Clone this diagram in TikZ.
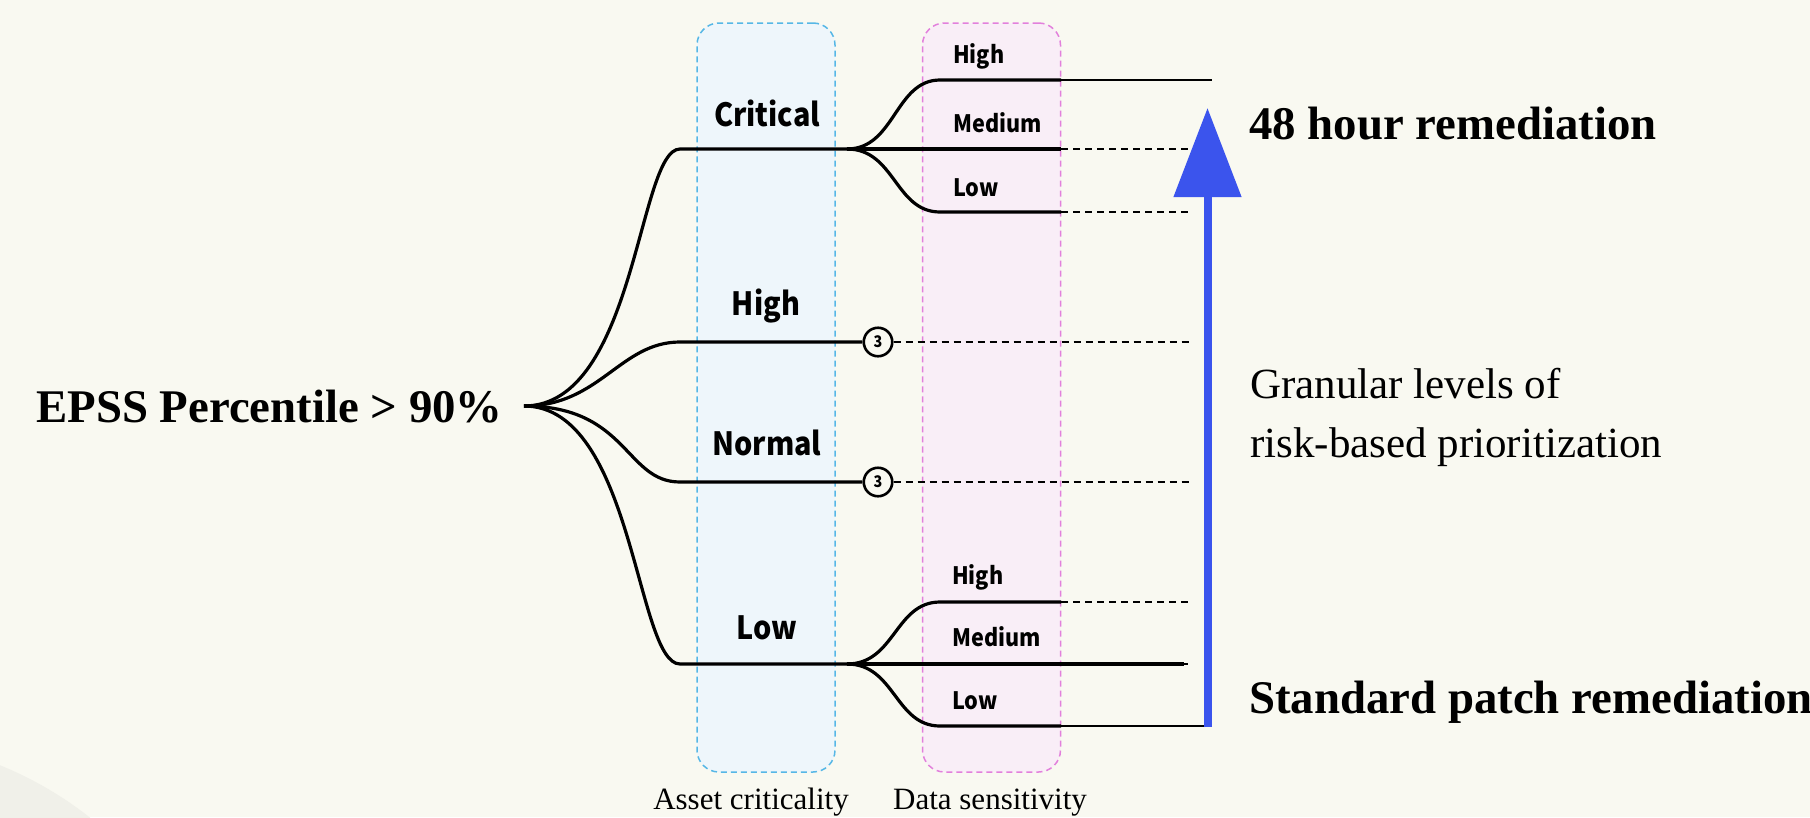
\documentclass[tikz,border=0pt]{standalone}
\usepackage{fontspec}
\setmainfont{Liberation Serif}
\newfontfamily\labfont{Noto Sans CJK SC}[FakeStretch=0.9]
\usetikzlibrary{arrows.meta}

\definecolor{paper}{RGB}{249,249,241}
\definecolor{paperdark}{RGB}{240,240,233}
\definecolor{assetfill}{RGB}{238,246,251}
\definecolor{assetline}{RGB}{86,183,230}
\definecolor{datafill}{RGB}{249,238,247}
\definecolor{dataline}{RGB}{226,128,220}
\definecolor{scaleblue}{RGB}{59,84,237}

\begin{document}
\begin{tikzpicture}[x=1pt,y=-1pt,
  branch/.style={line width=3.2pt},
  thinbranch/.style={line width=2.2pt},
  tail/.style={line width=1.6pt, dash pattern=on 7pt off 5pt},
  column/.style={rounded corners=22pt, line width=1.5pt,
    dash pattern=on 6pt off 4pt, minimum width=138pt, minimum height=749pt,
    inner sep=0pt},
  levelbig/.style={font=\labfont\bfseries\fontsize{32}{32}\selectfont, anchor=base, inner sep=0pt},
  levelsmall/.style={font=\labfont\bfseries\fontsize{24}{24}\selectfont, anchor=base west, inner sep=0pt},
  count/.style={circle, draw, line width=2.6pt, fill=paper, minimum size=28.5pt,
    inner sep=0pt, font=\labfont\bfseries\fontsize{16}{16}\selectfont},
  heading/.style={font=\bfseries\fontsize{46.8}{47}\selectfont, anchor=base west, inner sep=0pt},
  caption/.style={font=\fontsize{31}{31}\selectfont, anchor=base, inner sep=0pt}
]
% page and background shading
\useasboundingbox (0,0) rectangle (1810,817);
\fill[paper] (0,0) rectangle (1810,817);
\begin{scope}
  \clip (0,0) rectangle (1810,817);
  \fill[paperdark] (-140,1110) circle (372);
\end{scope}

% the two criteria columns
\node[column, draw=assetline, fill=assetfill] (asset) at (766,397.5) {};
\node[column, draw=dataline, fill=datafill] (data) at (991.5,397.5) {};
\node[caption] (assetcap) at (751,809) {Asset criticality};
\node[caption] (datacap) at (990,809) {Data sensitivity};

% root
\node[heading] (epss) at (36,422) {EPSS Percentile > 90\%};
\coordinate (root) at (524,406);

% asset criticality levels
\coordinate (crit) at (680,149);
\coordinate (critj) at (847,149);
\coordinate (high) at (680,342);
\coordinate (norm) at (680,482);
\coordinate (low) at (680,664);
\coordinate (lowj) at (847,664);

\node[levelbig] (critlab) at (767,126) {Critical};
\node[levelbig] (highlab) at (766,315) {High};
\node[levelbig] (normlab) at (767,455) {Normal};
\node[levelbig] (lowlab) at (767,639) {Low};

\node[count] (c1) at (878,342) {3};
\node[count] (c2) at (878,482) {3};

\draw[branch] (root) .. controls (636,406) and (638,149) .. (crit) -- (critj);
\draw[branch] (root) .. controls (600,406) and (620,342) .. (high) -- (c1.west);
\draw[branch] (root) .. controls (628,406) and (625,482) .. (norm) -- (c2.west);
\draw[branch] (root) .. controls (634,406) and (636,664) .. (low) -- (lowj);

% data sensitivity under critical assets
\coordinate (cH) at (940,80);
\coordinate (cHe) at (1061,80);
\coordinate (cHx) at (1212,80);
\coordinate (cMe) at (1061,149);
\coordinate (cMx) at (1192,149);
\coordinate (cL) at (940,212);
\coordinate (cLe) at (1061,212);
\coordinate (cLx) at (1189,212);

\draw[branch] (critj) .. controls +(48,0) and +(-45,0) .. (cH) -- (cHe);
\draw[branch] (critj) -- (cMe);
\draw[branch] (critj) .. controls +(48,0) and +(-45,0) .. (cL) -- (cLe);
\draw[thinbranch] (cHe) -- (cHx);
\draw[tail] (cMe) -- (cMx);
\draw[tail] (cLe) -- (cLx);

\node[levelsmall] (cHlab) at (953,63) {High};
\node[levelsmall] (cMlab) at (953,132) {Medium};
\node[levelsmall] (cLlab) at (953,196) {Low};

% data sensitivity under low assets
\coordinate (lH) at (940,602);
\coordinate (lHe) at (1061,602);
\coordinate (lHx) at (1189,602);
\coordinate (lMe) at (1061,664);
\coordinate (lMx) at (1184,664);
\coordinate (lL) at (940,726);
\coordinate (lLe) at (1061,726);
\coordinate (lLx) at (1211,726);

\draw[branch] (lowj) .. controls +(48,0) and +(-45,0) .. (lH) -- (lHe);
\draw[tail] (lMe) -- (1189,664);
\draw[branch] (lowj) -- (lMx);
\draw[branch] (lowj) .. controls +(48,0) and +(-45,0) .. (lL) -- (lLe);
\draw[tail] (lHe) -- (lHx);
\draw[thinbranch] (lLe) -- (lLx);

\node[levelsmall] (lHlab) at (952,584) {High};
\node[levelsmall] (lMlab) at (952,646) {Medium};
\node[levelsmall] (lLlab) at (952,709) {Low};

% unchecked levels continue to the scale
\draw[tail] (c1.east) -- (1193,342);
\draw[tail] (c2.east) -- (1193,482);

% remediation scale
\coordinate (sbot) at (1207.5,727);
\coordinate (stop) at (1207.5,108);
\draw[scaleblue, line width=8pt, -{Triangle[length=89pt,width=66pt]}] (sbot) -- (stop);

\node[heading] (fast) at (1249,139) {48 hour remediation};
\node[heading] (std) at (1249,713) {Standard patch remediation};
\node[font=\fontsize{43}{59}\selectfont, align=left, anchor=base west, inner sep=0pt] (gran)
  at (1250,457) {Granular levels of\\risk-based prioritization};
\end{tikzpicture}
\end{document}
